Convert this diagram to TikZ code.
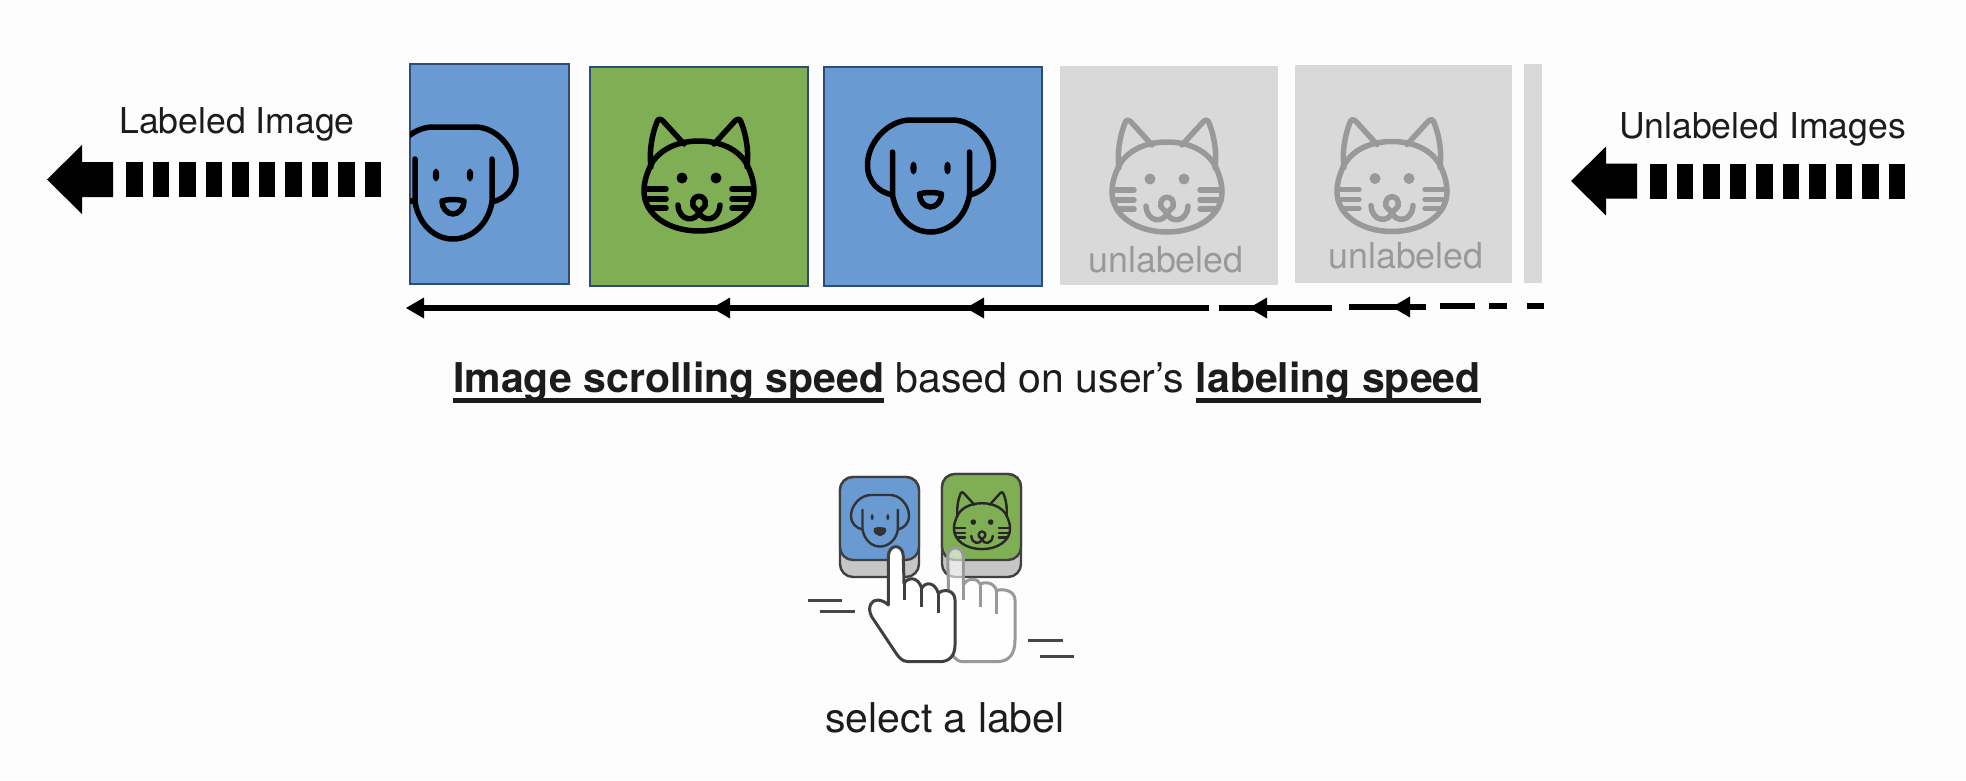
\documentclass[tikz,border=0pt]{standalone}
\usepackage{fontspec}
\setmainfont{TeX Gyre Heros}
\usetikzlibrary{arrows.meta}
\definecolor{cblue}{HTML}{6A9AD2}
\definecolor{cgreen}{HTML}{7FAE55}
\definecolor{cedge}{HTML}{2F4B7C}
\definecolor{cgray}{HTML}{D9D9D9}
\definecolor{cicon}{HTML}{999999}
\definecolor{ctext}{HTML}{1C1C1C}
\definecolor{cpage}{HTML}{FDFDFD}
\newcommand\ulbf[1]{\setbox0\hbox{\bfseries #1}\rlap{\rule[-11pt]{\wd0}{5.5pt}}\box0\relax}
\newcommand\dogicon[5]{\begin{scope}[shift={(#1,#2)},scale=#3,draw=#4,line width=#5,line join=round,line cap=round]
\draw (-38,75) .. controls (-52,72) and (-63,62) .. (-63,45) .. controls (-63,22) and (-42,0) .. (-20,0) -- (22,0) .. controls (44,0) and (63,22) .. (63,45) .. controls (63,62) and (52,72) .. (39,75);
\draw (-38,32) -- (-38,75) .. controls (-34,98) and (-18,112) .. (0,112) .. controls (18,112) and (35,98) .. (39,75) -- (39,32);
\fill[#4] (-17,48) ellipse [x radius=3.2,y radius=6.5];
\fill[#4] (17,48) ellipse [x radius=3.2,y radius=6.5];
\draw (-11,74) .. controls (-5,72) and (5,72) .. (11,74) .. controls (11,81) and (6,87) .. (0,87) .. controls (-6,87) and (-11,81) .. cycle;
\end{scope}}
\newcommand\caticon[5]{\begin{scope}[shift={(#1,#2)},scale=#3,draw=#4,line width=#5,line join=round,line cap=round]
\draw (0,22) .. controls (26,22) and (44,34) .. (50,50) .. controls (53,57) and (55,64) .. (55,72) .. controls (55,96) and (30,112) .. (0,112) .. controls (-30,112) and (-55,96) .. (-55,72) .. controls (-55,64) and (-53,57) .. (-50,50) .. controls (-44,34) and (-26,22) .. (0,22) -- cycle;
\draw (-15,25) -- (-36,2) .. controls (-38,0) and (-41,-1) .. (-42,3) .. controls (-47,15) and (-50,32) .. (-48,48);
\draw (15,25) -- (36,2) .. controls (38,0) and (41,-1) .. (42,3) .. controls (47,15) and (50,32) .. (48,48);
\fill[#4] (-17,59) circle [radius=5.5];
\fill[#4] (17,59) circle [radius=5.5];
\draw (-52,70) -- (-33,70) (-54,80) -- (-33,80) (-50,89) -- (-33,89);
\draw (52,70) -- (33,70) (54,80) -- (33,80) (50,89) -- (33,89);
\draw (-6,87) .. controls (-9,74) and (9,74) .. (6,87) -- (0,93) -- cycle;
\draw (-21,86) .. controls (-20,103) and (-3,103) .. (0,93) .. controls (3,103) and (20,103) .. (21,86);
\end{scope}}
\newcommand\bigarrow[3]{\begin{scope}[shift={(#1,#2)}]
\fill[black] (0,0) -- (35,-34.5) -- (35,-17.5) -- (66,-17.5) -- (66,17.5) -- (35,17.5) -- (35,34.5) -- cycle;
\foreach \i in {0,...,9} \fill[black] ({#3+\i*26.55},-17.5) rectangle ++(16.5,35);
\end{scope}}
\tikzset{
  card/.style={line width=2pt},
  slabel/.style={font=\fontsize{35.6}{42}\selectfont,text=ctext,inner sep=0pt,anchor=base},
  graylabel/.style={font=\fontsize{35.8}{42}\selectfont,text=cicon,inner sep=0pt,anchor=base},
  biglabel/.style={font=\fontsize{41}{48}\selectfont,text=ctext,inner sep=0pt,anchor=base},
  tip/.style={fill=black},
  track/.style={line width=5.5pt,black},
}
\begin{document}
\begin{tikzpicture}[x=1pt,y=-1pt]
\useasboundingbox (0,0) rectangle (1966,780);
\fill[cpage] (0,0) rectangle (1966,780);
% cards
\filldraw[cblue,draw=cedge,card] (410,64) rectangle (569,284);
\begin{scope}\clip (410,64) rectangle (569,284);\dogicon{453}{127}{1}{black}{5.5pt}\end{scope}
\filldraw[cgreen,draw=cedge,card] (590,67) rectangle (808,286);
\caticon{699}{119}{1}{black}{5.5pt}
\filldraw[cblue,draw=cedge,card] (824,67) rectangle (1042,286);
\dogicon{930.5}{120}{1}{black}{5.5pt}
\fill[cgray] (1060,66) rectangle (1278,285);
\caticon{1167}{120}{1}{cicon}{5.5pt}
\fill[cgray] (1295,65) rectangle (1512,283);
\caticon{1392}{119.5}{1}{cicon}{5.5pt}
\fill[cgray] (1523.5,64) rectangle (1542,283);
\node[graylabel] (u1) at (1166,272) {unlabeled};
\node[graylabel] (u2) at (1406,268) {unlabeled};
% big arrows
\bigarrow{47}{179.5}{79}
\bigarrow{1571}{181}{79}
\node[slabel] (labeled) at (237,133) {Labeled Image};
\node[slabel] (unlabeled) at (1762.5,138) {Unlabeled Images};
% track
\draw[track] (412,308) -- (1209,308);
\draw[track] (1219,308) -- (1332,308);
\draw[track] (1348.5,307) -- (1426,307);
\draw[track] (1440,306) -- (1474.5,306);
\draw[track] (1489,306) -- (1507,306);
\draw[track] (1527,306) -- (1544,306);
\foreach \tx/\ty in {406/308,712/308,966/308,1249/308,1392/307}
  \fill[tip] (\tx,\ty) -- ++(18,-10.5) -- ++(0,21) -- cycle;
% caption
\node[biglabel] (cap) at (967,392) {\ulbf{Image scrolling speed} based on user’s \ulbf{labeling speed}};
% buttons
\filldraw[fill=gray!45,draw=black!75,line width=2.4pt,rounded corners=13pt] (840,477) rectangle (919,577);
\filldraw[fill=cblue,draw=black!75,line width=2.4pt,rounded corners=13pt] (840,477) rectangle (919,560);
\dogicon{880}{495}{0.46}{black!80}{2.4pt}
\fill[black!80] (879,531) ellipse [x radius=5.5,y radius=4];
\filldraw[fill=gray!45,draw=black!75,line width=2.4pt,rounded corners=13pt] (942,474) rectangle (1021,577);
\filldraw[fill=cgreen,draw=black!75,line width=2.4pt,rounded corners=13pt] (942,474) rectangle (1021,560);
\caticon{982}{492}{0.51}{black!85}{2.4pt}
% hands
\begin{scope}[shift={(780,460)},scale=1/3,line join=round]
\draw[gray!55!black,line width=3pt] (85,420) -- (185,420) (120,453) -- (225,453) (745,540) -- (848,540) (780,590) -- (882,590);
% ghost hand
\filldraw[fill=white,fill opacity=.6,draw=black!40,line width=3pt] (503,290) .. controls (503,255) and (550,255) .. (550,290) -- (550,375) .. controls (560,355) and (590,350) .. (600,372) .. controls (615,365) and (640,365) .. (650,392) .. controls (665,385) and (705,390) .. (705,420) -- (705,540) .. controls (705,585) and (685,605) .. (650,605) -- (550,605) .. controls (525,605) and (515,585) .. (510,560) -- cycle;
\draw[black!40,line width=3pt] (550,375) -- (550,420) (600,372) -- (600,440) (650,392) -- (650,462);
% main hand
\filldraw[fill=white,draw=black!75,line width=3pt] (325,290) .. controls (325,250) and (370,250) .. (370,290) -- (372,370) .. controls (385,350) and (415,350) .. (425,385) .. controls (435,365) and (465,365) .. (475,400) .. controls (490,385) and (525,390) .. (525,420) -- (525,555) .. controls (525,590) and (505,605) .. (480,605) -- (385,605) .. controls (365,605) and (355,590) .. (345,575) -- (275,470) .. controls (260,440) and (275,418) .. (295,420) .. controls (310,422) and (320,430) .. (325,435) -- cycle;
\draw[black!75,line width=3pt] (372,370) -- (372,420) (425,385) -- (425,440) (475,400) -- (475,460);
\end{scope}
\node[biglabel] (select) at (945,732) {select a label};
\end{tikzpicture}
\end{document}
